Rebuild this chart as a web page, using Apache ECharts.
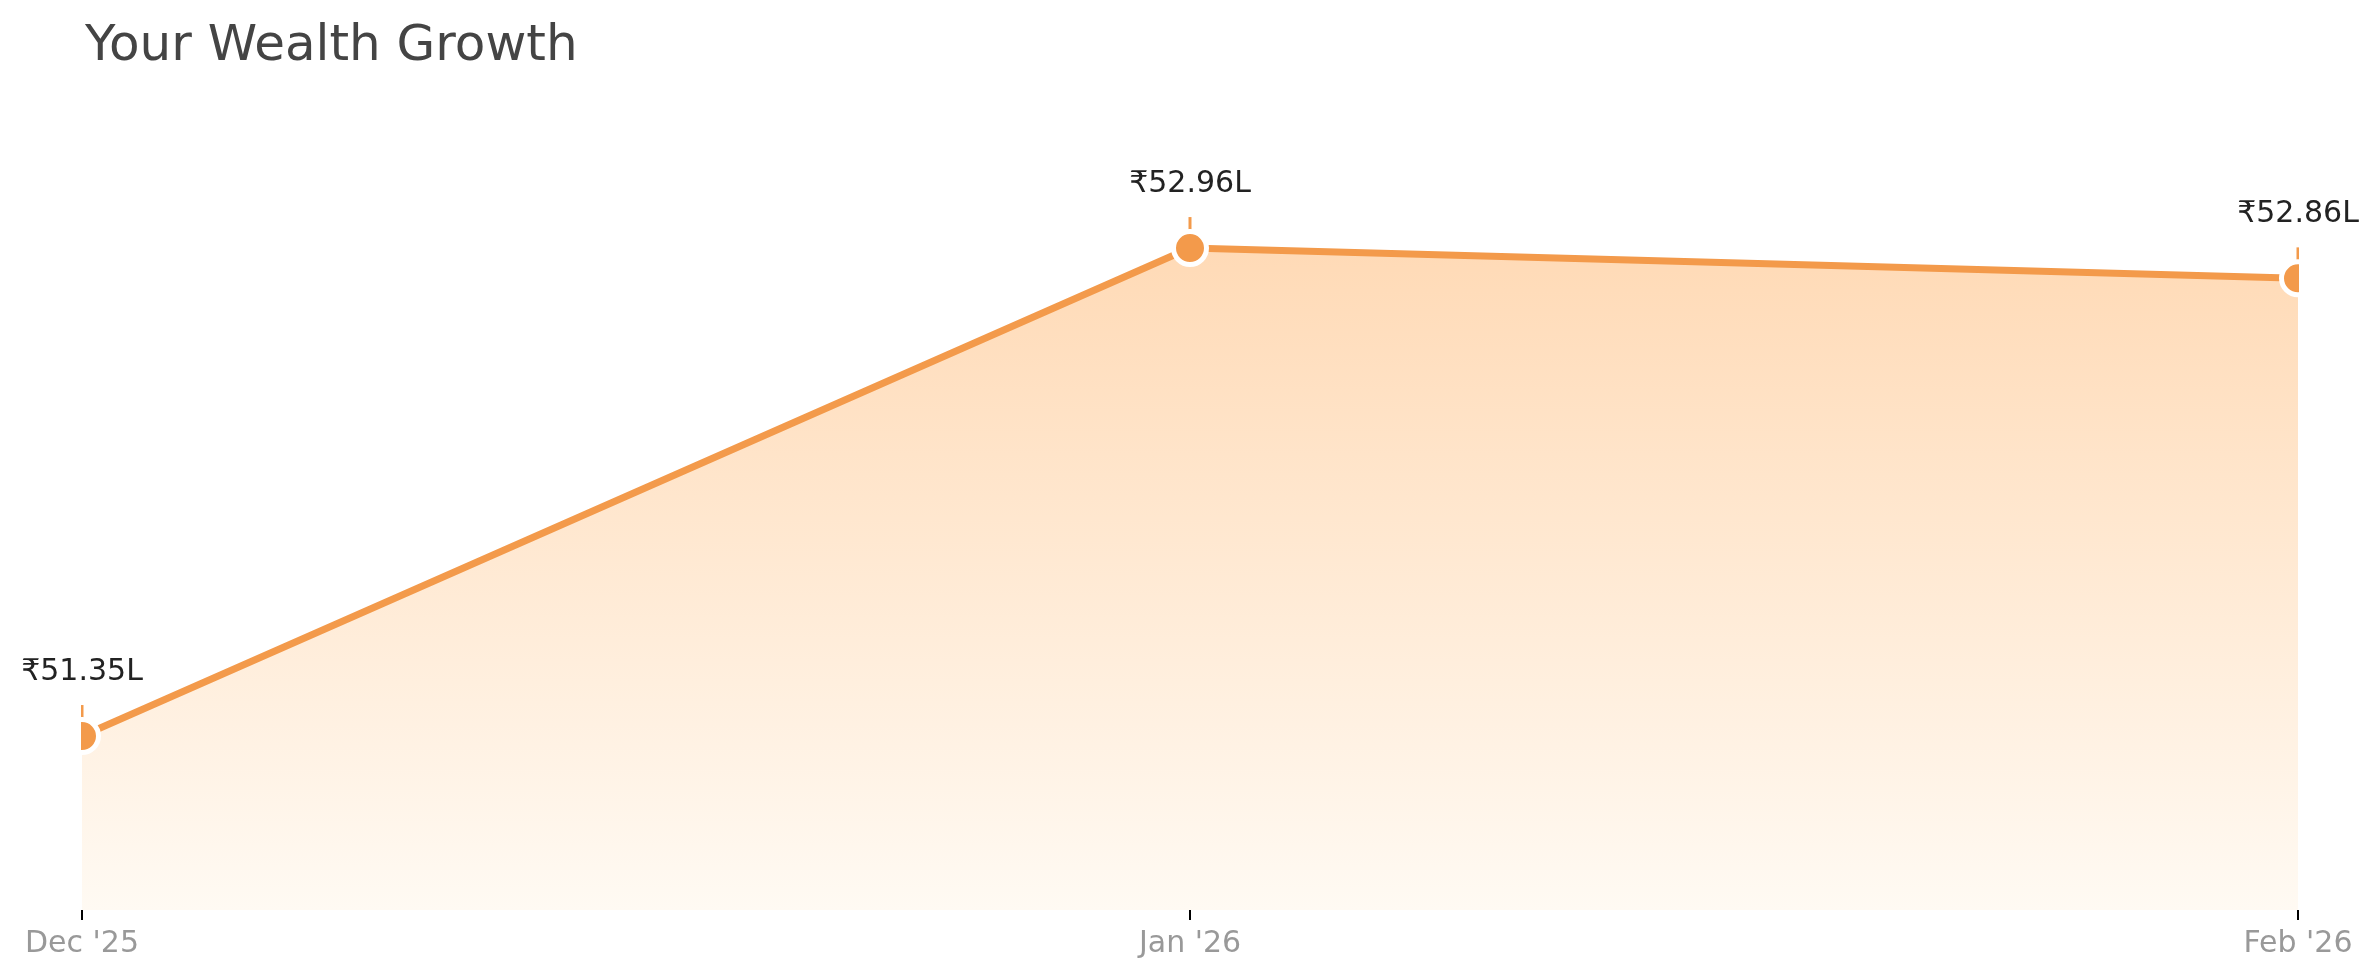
<!DOCTYPE html>
<html>
<head>
<meta charset="utf-8">
<script src="https://cdn.jsdelivr.net/npm/echarts@6/dist/echarts.min.js"></script>
<style>html,body{margin:0;padding:0;background:#fff}#c{width:2380px;height:979px}</style>
</head>
<body>
<div id="c"></div>
<script>
const categories = ["Dec '25", "Jan '26", "Feb '26"];
const wealthLakh = [51.35, 52.96, 52.86];
const valueLabels = ['₹51.35L', '₹52.96L', '₹52.86L'];

const ORANGE = '#F39A4B';
const FONT = 'DejaVu Sans';
const chart = echarts.init(document.getElementById('c'), null, {renderer: 'canvas'});
chart.setOption({
  animation: false,
  backgroundColor: '#ffffff',
  title: {
    text: 'Your Wealth Growth',
    left: 80, top: 17,
    textStyle: {fontFamily: FONT, fontSize: 50, fontWeight: 'normal', color: '#444444'}
  },
  grid: {left: 82, right: 82, top: 85, bottom: 69},
  xAxis: {
    type: 'category',
    data: categories,
    boundaryGap: false,
    axisLine: {show: false},
    axisTick: {show: true, length: 10, lineStyle: {color: '#000', width: 2}},
    axisLabel: {interval: 0, margin: 19, fontFamily: FONT, fontSize: 30, color: '#999999'},
    splitLine: {show: false}
  },
  yAxis: {
    type: 'value',
    min: 50.776, max: 53.498,
    show: false,
    splitLine: {show: false}
  },
  graphic: [
    {type: 'rect', shape: {x: 0, y: 700, width: 81, height: 60}, style: {fill: '#fff'}, z: 100},
    {type: 'rect', shape: {x: 2299, y: 240, width: 81, height: 70}, style: {fill: '#fff'}, z: 100}
  ],
  series: [
    {
      type: 'scatter',
      data: wealthLakh,
      symbol: 'rect',
      symbolSize: [3, 31],
      symbolOffset: [0, -15.5],
      itemStyle: {color: ORANGE, opacity: 1},
      z: 1,
      silent: true
    },
    {
      type: 'line',
      data: wealthLakh,
      z: 3,
      symbol: 'circle',
      symbolSize: 33,
      showAllSymbol: true,
      lineStyle: {color: ORANGE, width: 7},
      itemStyle: {color: ORANGE, borderColor: '#ffffff', borderWidth: 5},
      areaStyle: {
        origin: 'start',
        opacity: 1,
        color: new echarts.graphic.LinearGradient(0, 0, 0, 1, [
          {offset: 0, color: '#FFDAB6'},
          {offset: 1, color: '#FFFAF3'}
        ])
      },
      label: {
        show: true,
        position: 'top',
        distance: 30,
        fontFamily: FONT,
        fontSize: 30,
        color: '#222222',
        formatter: p => valueLabels[p.dataIndex]
      }
    }
  ]
});
</script>
</body>
</html>
